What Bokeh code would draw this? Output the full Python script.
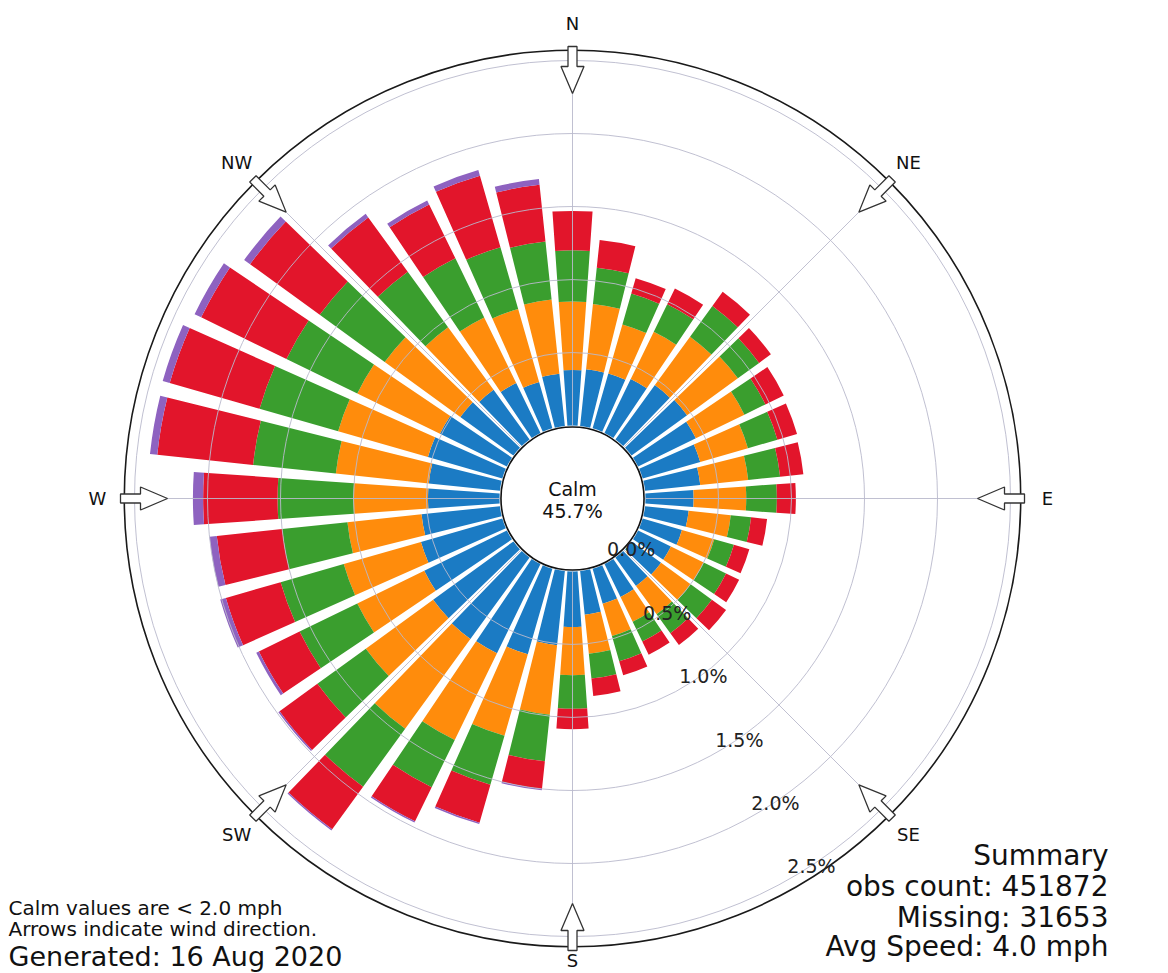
import numpy as np
from bokeh.plotting import figure
from bokeh.core.properties import value
from bokeh.embed import file_html
from bokeh.resources import INLINE

# ---------------- data (percent of observations) ----------------
directions = list(range(0, 360, 10))          # bearing of each bar, degrees
calm_pct = 45.7
speed_labels = ["2-5", "5-7", "7-10", "10-15", "15-20"]
speed_2_5 = [0.38, 0.39, 0.39, 0.41, 0.46, 0.47, 0.44, 0.41, 0.38, 0.33,
             0.30, 0.28, 0.25, 0.25, 0.24, 0.25, 0.25, 0.30, 0.38,
             0.51, 0.61, 0.68, 0.69, 0.68, 0.63, 0.58, 0.54, 0.49,
             0.49, 0.53, 0.51, 0.45, 0.42, 0.38, 0.33, 0.36]
speed_5_7 = [0.47, 0.45, 0.35, 0.36, 0.41, 0.43, 0.37, 0.34, 0.33, 0.36,
             0.29, 0.23, 0.25, 0.25, 0.24, 0.19, 0.23, 0.27, 0.33,
             0.48, 0.58, 0.66, 0.76, 0.57, 0.51, 0.55, 0.51, 0.51,
             0.64, 0.64, 0.63, 0.64, 0.53, 0.50, 0.52, 0.51]
speed_7_10 = [0.35, 0.25, 0.22, 0.21, 0.26, 0.18, 0.16, 0.21, 0.22, 0.21,
              0.14, 0.14, 0.17, 0.18, 0.16, 0.15, 0.18, 0.17, 0.23,
              0.32, 0.35, 0.36, 0.49, 0.41, 0.44, 0.45, 0.45, 0.52,
              0.57, 0.56, 0.54, 0.55, 0.47, 0.45, 0.44, 0.40]
speed_10_15 = [0.27, 0.19, 0.11, 0.12, 0.12, 0.10, 0.14, 0.14, 0.16, 0.13,
               0.11, 0.11, 0.10, 0.12, 0.10, 0.10, 0.10, 0.12, 0.14,
               0.19, 0.27, 0.26, 0.36, 0.32, 0.31, 0.39, 0.45, 0.51,
               0.66, 0.64, 0.65, 0.59, 0.46, 0.41, 0.51, 0.39]
speed_15_20 = [0, 0, 0, 0, 0, 0, 0, 0, 0, 0,
               0, 0, 0, 0, 0, 0, 0, 0, 0,
               0.01, 0.01, 0.01, 0.01, 0.01, 0.02, 0.04, 0.05, 0.07,
               0.05, 0.05, 0.05, 0.05, 0.03, 0.03, 0.04, 0.04]
speed_colors = ["#1b7bc4", "#ff8c0c", "#3a9e2e", "#e2152b", "#8e62c0"]
ring_values = [0.0, 0.5, 1.0, 1.5, 2.0, 2.5]
ring_labels = ["0.0%", "0.5%", "1.0%", "1.5%", "2.0%", "2.5%"]
compass_names = ["N", "NE", "E", "SE", "S", "SW", "W", "NW"]
compass_bearings = [0, 45, 90, 135, 180, 225, 270, 315]
note_lines = ["Calm values are < 2.0 mph", "Arrows indicate wind direction."]
generated_text = "Generated: 16 Aug 2020"
summary_lines = ["Summary", "obs count: 451872", "Missing: 31653", "Avg Speed: 4.0 mph"]

# ---------------- layout ----------------
W, H = 1168, 973
CX, CY = 572.0, 498.0       # pixel position of rose centre
PX = 146.0                  # pixels per data unit (1 unit = 1 %)
R0 = 0.5                    # calm-circle radius in data units
R_OUT = 3.07                # outer black circle
BAR_W = 8.0                 # angular width of a bar, degrees

def px2x(px):
    return (px - CX) / PX

def px2y(py):
    return (CY - py) / PX

p = figure(width=W, height=H,
           x_range=(px2x(0), px2x(W)), y_range=(px2y(H), px2y(0)),
           output_backend="svg", toolbar_location=None,
           x_axis_location=None, y_axis_location=None, min_border=0)
p.xgrid.visible = False
p.ygrid.visible = False
p.outline_line_color = None
p.background_fill_color = "white"
p.border_fill_color = "white"

# ---------------- stacked bars ----------------
bins = [speed_2_5, speed_5_7, speed_7_10, speed_10_15, speed_15_20]
dirs = np.array(directions, dtype=float)
start = np.radians(90.0 - dirs - BAR_W / 2)
end = np.radians(90.0 - dirs + BAR_W / 2)
base = np.zeros(len(dirs))
for vals, col in zip(bins, speed_colors):
    v = np.array(vals, dtype=float)
    inner = R0 + base
    outer = R0 + base + v
    keep = v > 0
    p.annular_wedge(x=0, y=0, inner_radius=inner[keep], outer_radius=outer[keep],
                    start_angle=start[keep], end_angle=end[keep],
                    fill_color=col, line_color=None)
    base = base + v

# ---------------- grid on top ----------------
grid_col = "#b9b9cc"
for rv in ring_values[1:]:
    p.circle(x=0, y=0, radius=R0 + rv, fill_color=None,
             line_color=grid_col, line_width=1, line_alpha=0.9)
b = np.radians(np.array(compass_bearings, dtype=float))
p.segment(x0=R0 * np.sin(b), y0=R0 * np.cos(b),
          x1=R_OUT * np.sin(b), y1=R_OUT * np.cos(b),
          line_color=grid_col, line_width=1, line_alpha=0.9)

# calm circle and outer circle
p.circle(x=0, y=0, radius=R0 - 0.01, fill_color="white", line_color="#111111", line_width=1.6)
p.circle(x=0, y=0, radius=R_OUT, fill_color=None, line_color="#1a1a1a", line_width=1.6)

# ---------------- arrows (pointing inward) ----------------
r_tail, r_hb, r_tip = 452 / PX, 432 / PX, 405 / PX
sw, hw = 4.5 / PX, 11.5 / PX
axs, ays = [], []
for bd in compass_bearings:
    t = np.radians(bd)
    u = np.array([np.sin(t), np.cos(t)])
    vv = np.array([np.cos(t), -np.sin(t)])
    pts = [(r_tail, -sw), (r_hb, -sw), (r_hb, -hw), (r_tip, 0.0),
           (r_hb, hw), (r_hb, sw), (r_tail, sw)]
    xy = [rr * u + tt * vv for rr, tt in pts]
    axs.append([q[0] for q in xy])
    ays.append([q[1] for q in xy])
p.patches(xs=axs, ys=ays, fill_color="white", line_color="#333333", line_width=1.3)

FONT = value("DejaVu Sans")

# compass labels (S nudged up so that it stays inside the page)
r_lab = [475 / PX if bd != 180 else 462 / PX for bd in compass_bearings]
p.text(x=[r * np.sin(np.radians(bd)) for r, bd in zip(r_lab, compass_bearings)],
       y=[r * np.cos(np.radians(bd)) for r, bd in zip(r_lab, compass_bearings)],
       text=compass_names, text_font=FONT, text_font_size="18px",
       text_align="center", text_baseline="middle", text_color="#111111")

# radial labels
th = np.radians(150.4)
lx = [(R0 + rv) * np.sin(th) + 0.155 for rv in ring_values]
ly = [(R0 + rv) * np.cos(th) + 0.088 for rv in ring_values]
p.text(x=lx, y=ly, text=ring_labels, text_font=FONT, text_font_size="19px",
       text_align="center", text_baseline="middle", text_color="#222222")

# calm text
p.text(x=[0, 0], y=[px2y(488), px2y(510)], text=["Calm", "%.1f%%" % calm_pct],
       text_font=FONT, text_font_size="19px", text_align="center",
       text_baseline="middle", text_color="#111111")

# footnotes
p.text(x=[px2x(8), px2x(8)], y=[px2y(907), px2y(928)], text=note_lines,
       text_font=FONT, text_font_size="20px", text_align="left",
       text_baseline="alphabetic", text_color="#111111")
p.text(x=[px2x(8)], y=[px2y(956)], text=[generated_text],
       text_font=FONT, text_font_size="27px", text_align="left",
       text_baseline="alphabetic", text_color="#111111")
p.text(x=[px2x(1108)] * 4, y=[px2y(855), px2y(886), px2y(917), px2y(946)],
       text=summary_lines, text_font=FONT, text_font_size="28px",
       text_align="right", text_baseline="alphabetic", text_color="#111111")

open("out.html", "w").write(file_html(p, INLINE))
